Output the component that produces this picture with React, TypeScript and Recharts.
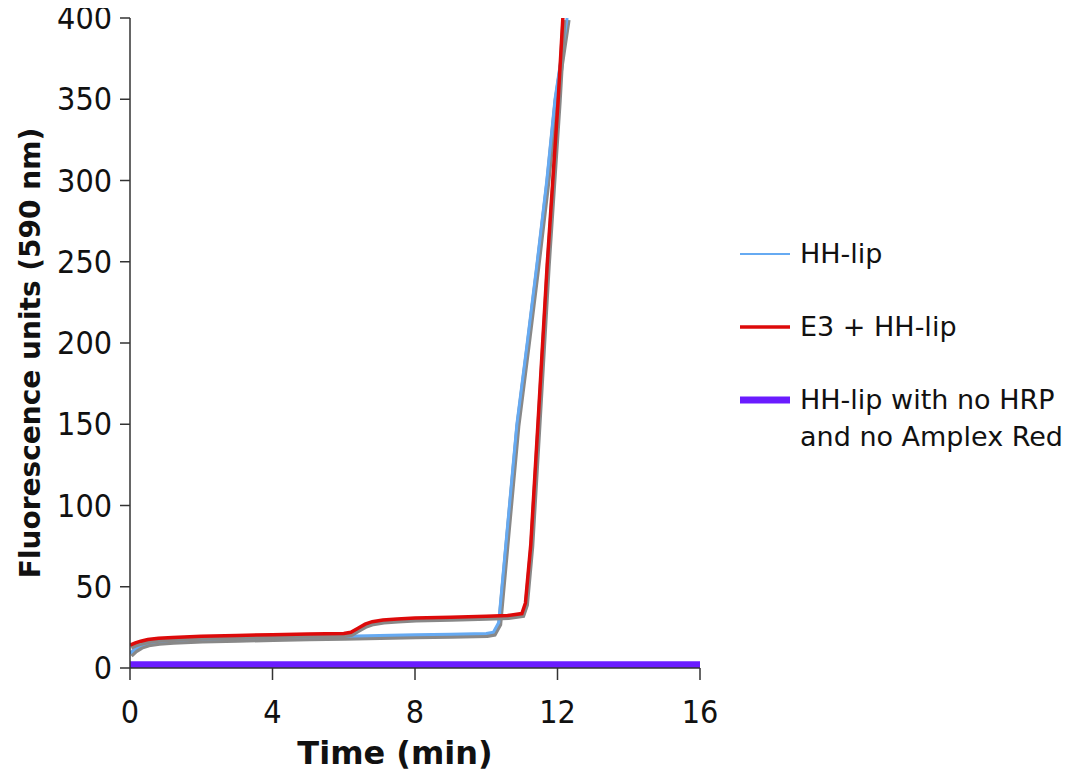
import { Line, LineChart, XAxis, YAxis } from "recharts";

// HH-lip (blue)
const hhTime = [0, 0.15, 0.3, 0.5, 0.8, 1.2, 2, 3, 4, 5, 6, 7, 8, 9, 10, 10.2, 10.35, 10.55, 10.86, 11.15, 11.42, 11.7, 11.93, 12.1, 12.27];
const hhValue = [9, 12, 14, 15.5, 16.5, 17, 17.8, 18.3, 18.8, 19.2, 19.6, 20, 20.4, 20.8, 21.2, 22, 28, 76, 150, 200, 248, 300, 350, 375, 400];

// E3 + HH-lip (red)
const e3Time = [0, 0.15, 0.3, 0.5, 0.8, 1.2, 2, 3, 4, 5, 6, 6.2, 6.4, 6.6, 6.8, 7.1, 7.5, 8, 9, 10, 10.6, 11.0, 11.1, 11.25, 11.45, 11.71, 12.02, 12.15];
const e3Value = [14, 15.5, 16.5, 17.5, 18.3, 18.8, 19.5, 20, 20.5, 20.9, 21.3, 22, 24.5, 27, 28.5, 29.5, 30.2, 30.8, 31.3, 31.8, 32.3, 33.5, 40, 76, 150, 248, 350, 400];

// HH-lip with no HRP and no Amplex Red (purple)
const ctrlTime = [0, 4, 8, 12, 16];
const ctrlValue = [2, 2, 2, 2, 2];

const xTicks = [0, 4, 8, 12, 16];
const yTicks = [0, 50, 100, 150, 200, 250, 300, 350, 400];

const legendItems = [
  { label: ["HH-lip"], color: "#66aaf2", width: 2 },
  { label: ["E3 + HH-lip"], color: "#dd0a0a", width: 3.5 },
  { label: ["HH-lip with no HRP", "and no Amplex Red"], color: "#6a1cff", width: 7 },
];

const toRows = (t: number[], v: number[]) => t.map((x, i) => ({ t: x, v: v[i] }));

const hhData = toRows(hhTime, hhValue);
const e3Data = toRows(e3Time, e3Value);
const ctrlData = toRows(ctrlTime, ctrlValue);

const FONT = "'DejaVu Sans', Verdana, sans-serif";
const TICK_FONT = "'Liberation Sans Narrow', 'DejaVu Sans Condensed', 'DejaVu Sans', sans-serif";
const AXIS = "#333";

function YTick({ x, y, payload }: any) {
  return (
    <text
      x={x}
      y={y}
      textAnchor="end"
      dominantBaseline="central"
      fill="#111"
      fontSize={32}
      fontFamily={TICK_FONT}
    >
      {payload.value}
    </text>
  );
}

function LegendBox() {
  return (
    <div
      style={{
        position: "absolute",
        left: 740,
        top: 235,
        fontFamily: FONT,
        fontSize: 27,
        color: "#111",
        lineHeight: "37px",
      }}
    >
      {legendItems.map((it, i) => (
        <div key={i} style={{ display: "flex", alignItems: "flex-start", marginBottom: 36 }}>
          <svg width={60} height={37} style={{ flex: "none" }}>
            <line x1={0} x2={50} y1={19} y2={19} stroke={it.color} strokeWidth={it.width} />
          </svg>
          <div>
            {it.label.map((l) => (
              <div key={l}>{l}</div>
            ))}
          </div>
        </div>
      ))}
    </div>
  );
}

export default function App() {
  return (
    <div style={{ fontFamily: FONT, position: "relative", width: 1071, height: 780, margin: "-8px 0 0 -8px" }}>
      <style>{`.shadow-line { transform: translate(1px, 2px); }`}</style>
      <LineChart width={1071} height={780} margin={{ top: 18, right: 371, bottom: 8, left: 8 }}>
        <XAxis
          dataKey="t"
          type="number"
          domain={[0, 16]}
          ticks={xTicks}
          allowDataOverflow
          tickSize={12}
          tickMargin={20}
          height={104}
          stroke={AXIS}
          strokeWidth={1.5}
          tick={{ fill: "#111", fontSize: 32, fontFamily: TICK_FONT }}
          label={{ value: "Time (min)", position: "insideBottom", offset: 8, dx: -20, fill: "#111", fontSize: 32, fontWeight: "bold", fontFamily: FONT }}
        />
        <YAxis
          type="number"
          domain={[0, 400]}
          ticks={yTicks}
          allowDataOverflow
          tickSize={10}
          tickMargin={8}
          width={122}
          stroke={AXIS}
          strokeWidth={1.5}
          tick={<YTick />}
          label={{ value: "Fluorescence units (590 nm)", angle: -90, position: "insideLeft", offset: 22, dy: 10, style: { textAnchor: "middle" }, fill: "#111", fontSize: 28, fontWeight: "bold", fontFamily: FONT }}
        />
        <Line className="shadow-line" data={hhData} dataKey="v" type="linear" stroke="#888" strokeWidth={5} dot={false} isAnimationActive={false} legendType="none" />
        <Line data={hhData} dataKey="v" name="HH-lip" type="linear" stroke="#66aaf2" strokeWidth={3} dot={false} isAnimationActive={false} />
        <Line className="shadow-line" data={e3Data} dataKey="v" type="linear" stroke="#888" strokeWidth={5} dot={false} isAnimationActive={false} legendType="none" />
        <Line data={e3Data} dataKey="v" name="E3 + HH-lip" type="linear" stroke="#dd0a0a" strokeWidth={3.5} dot={false} isAnimationActive={false} />
        <Line data={ctrlData} dataKey="v" name="HH-lip with no HRP and no Amplex Red" type="linear" stroke="#6a1cff" strokeWidth={7} dot={false} isAnimationActive={false} />
      </LineChart>
      <LegendBox />
    </div>
  );
}
